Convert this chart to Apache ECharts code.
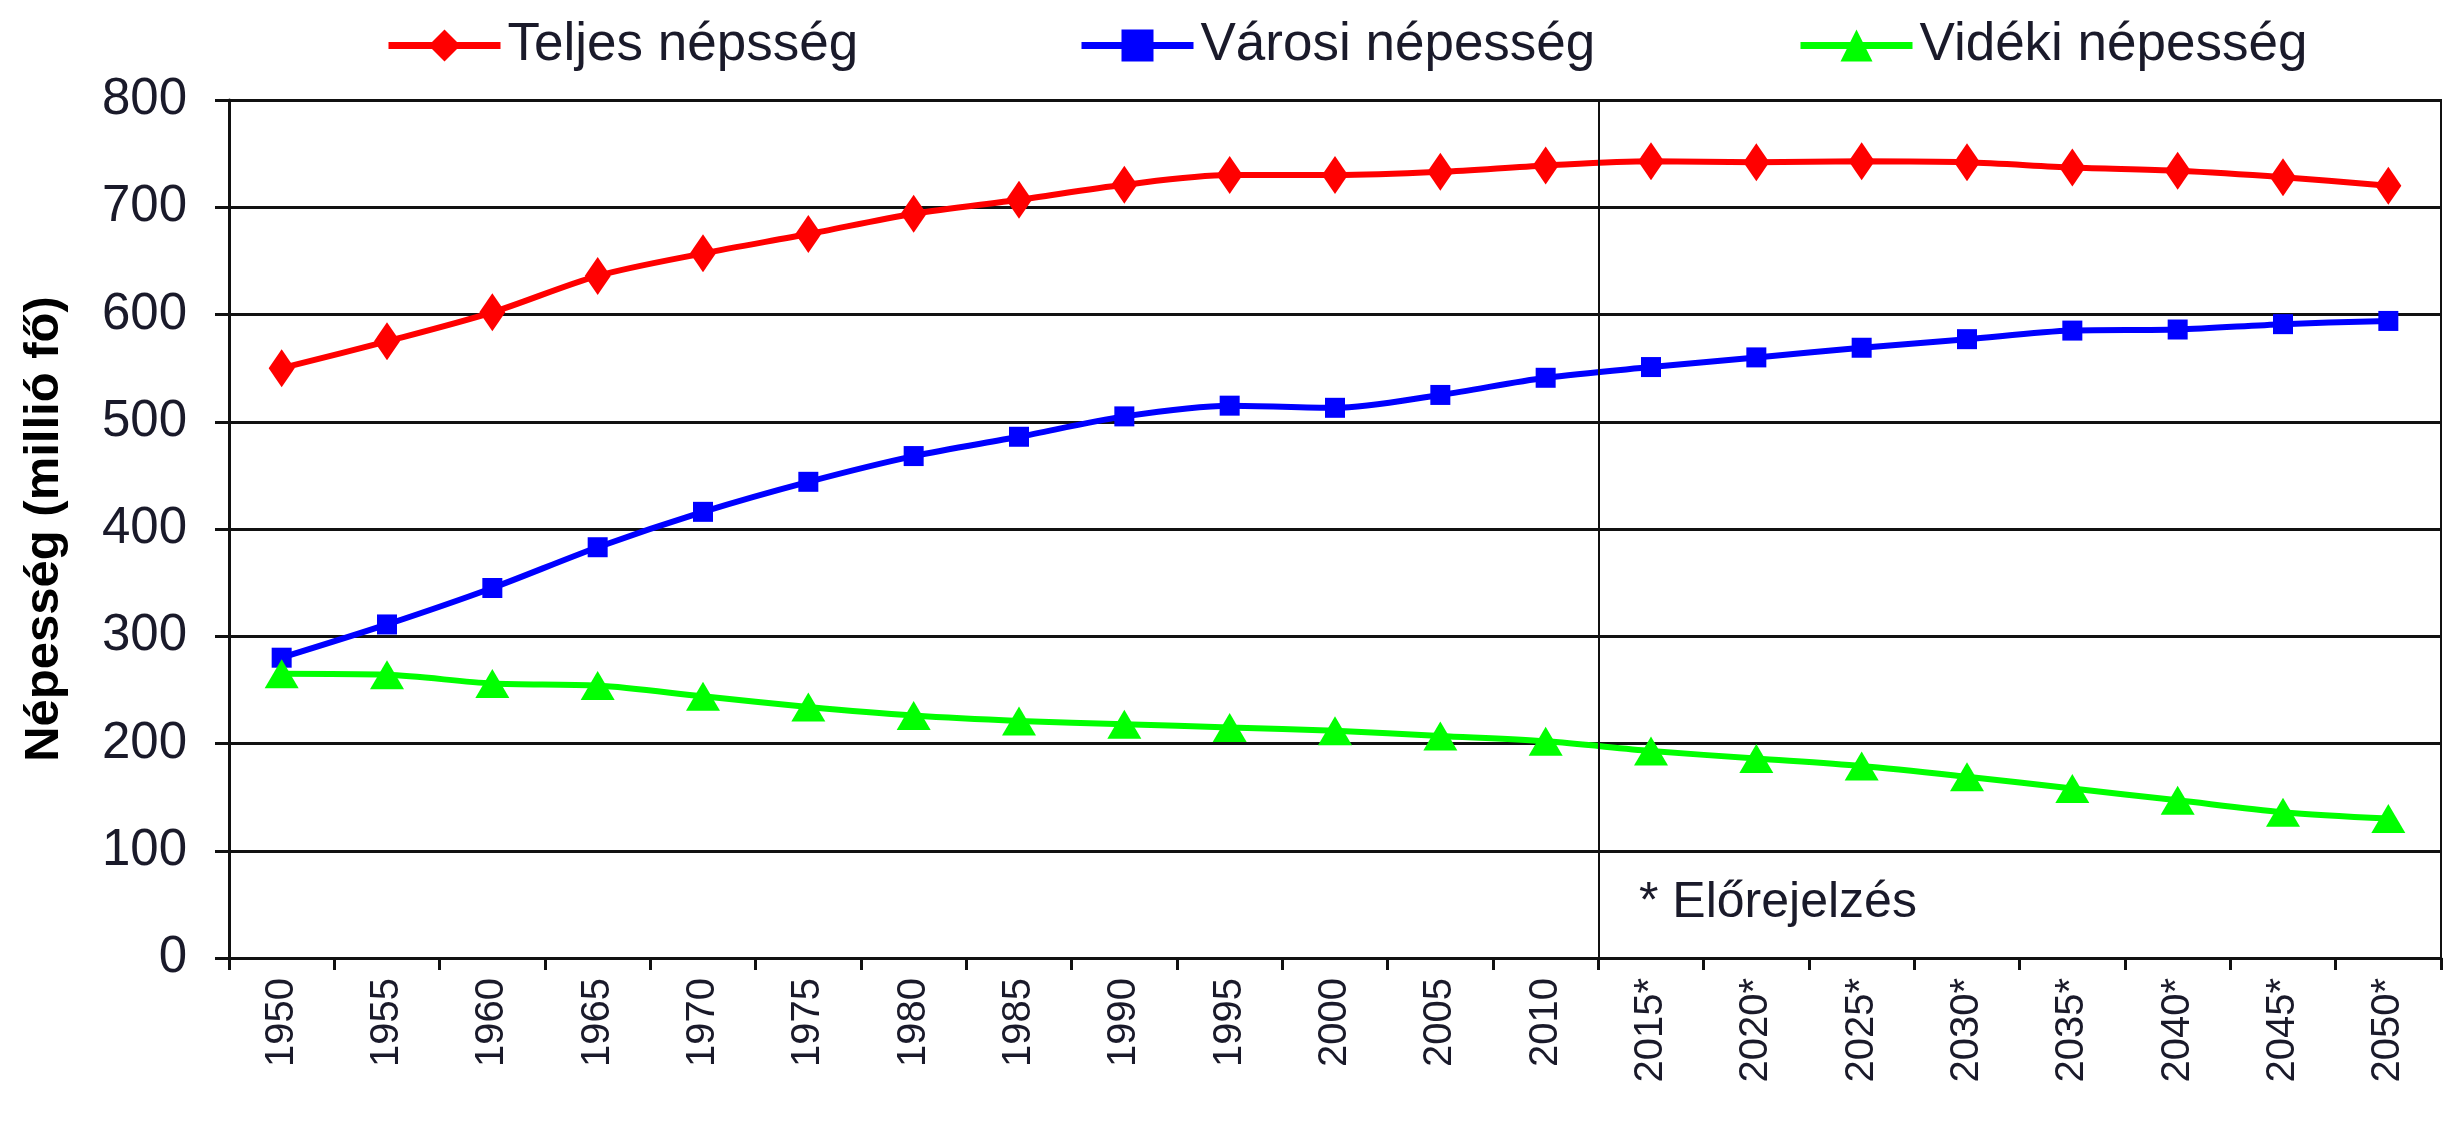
<!DOCTYPE html>
<html>
<head>
    <meta charset="UTF-8">
    <title>Népesség</title>
    <script src="https://cdn.jsdelivr.net/npm/echarts@6/dist/echarts.min.js"></script>
    <style>
        html, body { margin: 0; padding: 0; background: #fff; }
        #chart { width: 2447px; height: 1127px; }
    </style>
</head>
<body>
<div id="chart"></div>
<script>
    // kategóriák (évek), * = előrejelzés
    var years = ['1950', '1955', '1960', '1965', '1970', '1975', '1980', '1985', '1990', '1995', '2000',
        '2005', '2010', '2015*', '2020*', '2025*', '2030*', '2035*', '2040*', '2045*', '2050*'];

    var teljes = [550, 575, 602, 636, 657, 675, 694, 707, 721, 730, 730,
        733, 739, 743, 742, 743, 742, 737, 734, 728, 720];
    var varosi = [280, 311, 345, 383, 416, 444, 468, 486, 505, 515, 513,
        525, 541, 551, 560, 569, 577, 585, 586, 591, 594];
    var videki = [265, 264, 256, 254, 244, 234, 226, 221, 218, 215, 212,
        207, 202, 193, 186, 179, 169, 158, 147, 136, 130];

    var seriesNames = ['Teljes népsség', 'Városi népesség', 'Vidéki népesség'];
    var yTitle = 'Népesség (millió fő)';
    var note = '* Előrejelzés';
    var firstForecast = years.indexOf('2015*');

    var font = '"Liberation Sans", Arial, sans-serif';
    var chart = echarts.init(document.getElementById('chart'));

    function legendFor(name, left) {
        return {
            data: [name],
            top: 14,
            left: left,
            itemWidth: 112,
            itemHeight: 40,
            lineStyle: { width: 7 },
            textStyle: { fontSize: 53, color: '#1a1a2a', fontFamily: font, padding: [0, 0, 0, 2] }
        };
    }

    var option = {
        animation: false,
        textStyle: { fontFamily: font },
        legend: [
            legendFor(seriesNames[0], 380),
            legendFor(seriesNames[1], 1073),
            legendFor(seriesNames[2], 1792)
        ],
        grid: {
            left: 229,
            right: 6,
            top: 100,
            bottom: 169,
            show: true,
            borderColor: '#111',
            borderWidth: 2,
            backgroundColor: '#fff'
        },
        xAxis: [{
            type: 'category',
            data: years,
            boundaryGap: true,
            axisLine: { lineStyle: { color: '#111', width: 3 } },
            axisTick: { show: true, length: 12, lineStyle: { color: '#111', width: 3 } },
            axisLabel: {
                rotate: 90,
                margin: 20,
                fontSize: 40,
                color: '#1a1a2a',
                interval: 0
            },
            splitLine: { show: false }
        }, {
            // rejtett segédtengely az előrejelzés határvonalához
            type: 'value',
            min: -0.5,
            max: years.length - 0.5,
            show: false
        }],
        yAxis: {
            type: 'value',
            min: 0,
            max: 800,
            interval: 100,
            name: yTitle,
            nameLocation: 'middle',
            nameGap: 160,
            nameTextStyle: { fontSize: 49, fontWeight: 'bold', color: '#000' },
            axisLine: { show: true, onZero: false, lineStyle: { color: '#111', width: 3 } },
            axisTick: { show: true, length: 14, lineStyle: { color: '#111', width: 3 } },
            axisLabel: { fontSize: 51, color: '#1a1a2a', margin: 42 },
            splitLine: { show: true, lineStyle: { color: '#111', width: 3 } }
        },
        graphic: [{
            type: 'text',
            left: 1639,
            top: 878,
            style: { text: note, fontSize: 50, fill: '#1a1a2a', fontFamily: font }
        }],
        series: [
            {
                name: 'határ',
                type: 'line',
                xAxisIndex: 1,
                data: [],
                silent: true,
                markLine: {
                    silent: true,
                    symbol: 'none',
                    label: { show: false },
                    lineStyle: { color: '#111', width: 2, type: 'solid' },
                    data: [{ xAxis: firstForecast - 0.5 }]
                }
            },
            {
                name: seriesNames[0],
                type: 'line',
                data: teljes,
                smooth: 0.3,
                symbol: 'diamond',
                symbolSize: [26, 38],
                itemStyle: { color: '#ff0000' },
                lineStyle: { color: '#ff0000', width: 6 }
            },
            {
                name: seriesNames[1],
                type: 'line',
                data: varosi,
                smooth: 0.3,
                symbol: 'rect',
                symbolSize: 20,
                itemStyle: { color: '#0000ff' },
                lineStyle: { color: '#0000ff', width: 6 }
            },
            {
                name: seriesNames[2],
                type: 'line',
                data: videki,
                smooth: 0.3,
                symbol: 'triangle',
                symbolSize: [34, 29],
                itemStyle: { color: '#00ff00' },
                lineStyle: { color: '#00ff00', width: 6 }
            }
        ]
    };

    chart.setOption(option);
</script>
</body>
</html>
